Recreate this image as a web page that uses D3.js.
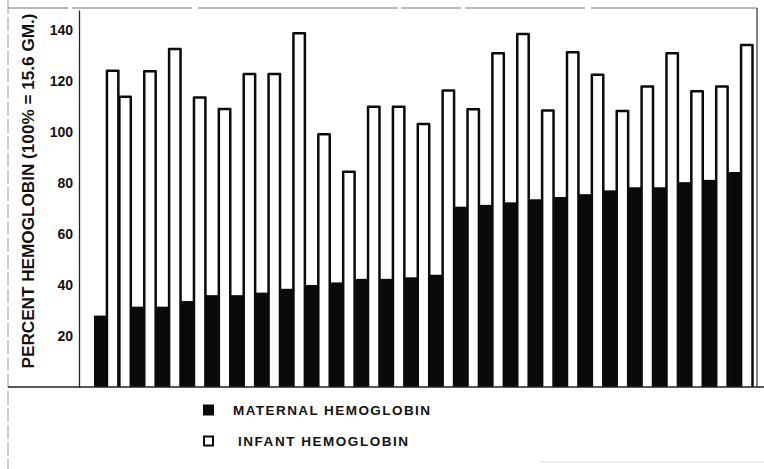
<!DOCTYPE html>
<html>
<head>
<meta charset="utf-8">
<script src="https://cdn.jsdelivr.net/npm/d3@7"></script>
<style>
  body { margin: 0; background: #fff; }
  svg { display: block; }
  .axis text { font-family: "Liberation Sans", Arial, sans-serif; font-weight: bold; font-size: 14px; fill: #111; }
  .axis .domain { stroke: #222; stroke-width: 1.3; }
  .lbl { font-family: "Liberation Sans", Arial, sans-serif; font-weight: bold; fill: #111; }
</style>
</head>
<body>
<div id="chart"></div>
<script>
// maternal (black) and infant (white) hemoglobin, percent of 15.6 gm
var maternal = [28, 31.5, 31.5, 33.7, 36, 36, 37, 38.5, 40, 41, 42.4, 42.4, 43, 44,
                70.7, 71.4, 72.4, 73.6, 74.5, 75.6, 77.1, 78.3, 78.3, 80.3, 81.2, 84.3];
var infant = [124, 113.8, 123.8, 132.5, 113.5, 109, 122.7, 122.7, 138.7, 99.1, 84.4,
              109.9, 109.9, 103.1, 116.2, 108.9, 130.8, 138.4, 108.4, 131.2, 122.4,
              108.2, 117.8, 130.8, 115.9, 117.8, 134.1];
// order of the bars left to right, M = maternal, I = infant
var barOrder = ("MII" + "MI".repeat(25)).split("");
var yTicks = [20, 40, 60, 80, 100, 120, 140];
var yTitle = "PERCENT HEMOGLOBIN  (100% = 15.6 GM.)";
var legendItems = ["MATERNAL HEMOGLOBIN", "INFANT HEMOGLOBIN"];

var w = 764;
var h = 469;

var svg = d3.select("#chart")
            .append("svg")
            .attr("width", w)
            .attr("height", h);

// build the bar list in drawing order
var mi = 0, ii = 0;
var bars = barOrder.map(function(t, i) {
  if (t == "M") return { i: i, type: t, v: maternal[mi++] };
  return { i: i, type: t, v: infant[ii++] };
});

var x = d3.scaleBand()
          .domain(d3.range(barOrder.length))
          .range([94, 753])
          .padding(0);

var yScale = d3.scaleLinear()
               .domain([0, 147.8])
               .range([387, 10]);

// frame lines of the old plate
svg.append("line").attr("x1", 8).attr("x2", 757).attr("y1", 8).attr("y2", 8)
   .attr("stroke", "#777").attr("stroke-width", 1).attr("stroke-dasharray", "60,4,120,6,200,3");
svg.append("line").attr("x1", 757).attr("x2", 757).attr("y1", 8).attr("y2", 387)
   .attr("stroke", "#333").attr("stroke-width", 1.2);
svg.append("line").attr("x1", 8).attr("x2", 8).attr("y1", 0).attr("y2", h)
   .attr("stroke", "#999").attr("stroke-width", 1).attr("stroke-dasharray", "14,3");
svg.append("line").attr("x1", 540).attr("x2", 764).attr("y1", 462).attr("y2", 462)
   .attr("stroke", "#ddd").attr("stroke-width", 1);

// maternal bars
svg.selectAll("rect.mat")
   .data(bars.filter(function(d) { return d.type == "M"; }))
   .enter()
   .append("rect")
   .attr("class", "mat")
   .attr("x", function(d) { return x(d.i); })
   .attr("width", x.bandwidth())
   .attr("y", function(d) { return yScale(d.v); })
   .attr("height", function(d) { return yScale(0) - yScale(d.v); })
   .attr("fill", "#0a0a0a");

// infant bars, outlined and open at the bottom
svg.selectAll("path.inf")
   .data(bars.filter(function(d) { return d.type == "I"; }))
   .enter()
   .append("path")
   .attr("class", "inf")
   .attr("d", function(d) {
     var x0 = x(d.i) + 0.5, x1 = x(d.i) + x.bandwidth() - 0.5;
     return "M" + x0 + "," + yScale(0) + "V" + yScale(d.v) + "H" + x1 + "V" + yScale(0);
   })
   .attr("fill", "#fff")
   .attr("stroke", "#0a0a0a")
   .attr("stroke-width", 2.5)
   .attr("stroke-linejoin", "round");

// baseline
svg.append("line").attr("x1", 8).attr("x2", w).attr("y1", yScale(0)).attr("y2", yScale(0))
   .attr("stroke", "#222").attr("stroke-width", 1.3);

var yAxis = d3.axisLeft(yScale)
              .tickValues(yTicks)
              .tickSize(0)
              .tickPadding(6);

svg.append("g")
   .attr("class", "axis")
   .attr("transform", "translate(79,0)")
   .call(yAxis);

svg.append("text")
   .attr("class", "lbl")
   .attr("transform", "translate(34,191) rotate(-90)")
   .attr("text-anchor", "middle")
   .attr("font-size", 16)
   .attr("textLength", 355)
   .attr("lengthAdjust", "spacingAndGlyphs")
   .text(yTitle);

// legend
var legendY = [410, 441];
var legendW = [197, 170];
var legendX = [233, 238];
legendItems.forEach(function(name, k) {
  svg.append("rect")
     .attr("x", 203).attr("y", legendY[k] - 5.5)
     .attr("width", k == 0 ? 11 : 9).attr("height", k == 0 ? 11 : 9)
     .attr("transform", k == 0 ? null : "translate(1,1)")
     .attr("fill", k == 0 ? "#0a0a0a" : "#fff")
     .attr("stroke", "#0a0a0a")
     .attr("stroke-width", k == 0 ? 0 : 2);
  svg.append("text")
     .attr("class", "lbl")
     .attr("x", legendX[k])
     .attr("y", legendY[k] + 5)
     .attr("font-size", 13.5)
     .attr("textLength", legendW[k])
     .attr("lengthAdjust", "spacing")
     .text(name);
});
</script>
</body>
</html>
